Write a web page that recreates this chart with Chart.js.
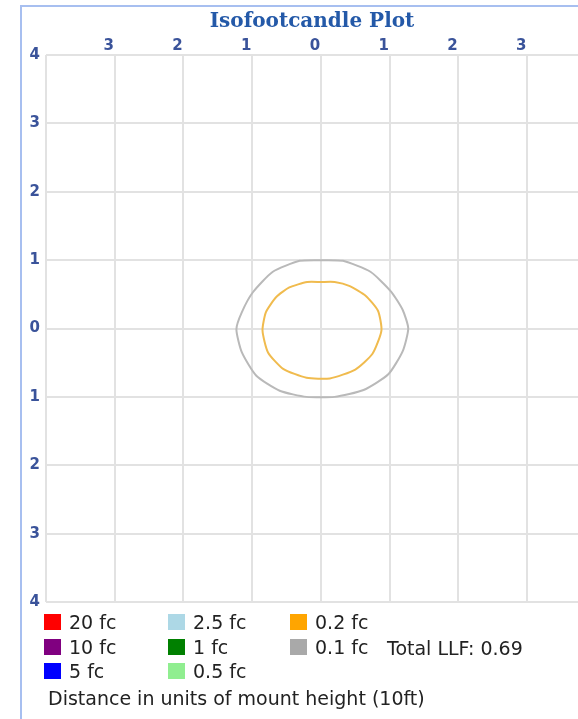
<!DOCTYPE html>
<html>
<head>
<meta charset="utf-8">
<script src="https://cdn.jsdelivr.net/npm/chart.js@4/dist/chart.umd.min.js"></script>
<style>
  body { margin: 0; background: #fff; width: 578px; height: 719px; overflow: hidden; position: relative; }
  #frame { position: absolute; left: 20px; top: 5px; width: 560px; height: 720px;
           border-left: 2px solid #a7bff0; border-top: 2px solid #a7bff0; }
  #plot { position: absolute; left: 0; top: 0; }
  .item { position: absolute; display: flex; align-items: center; font: 19px "DejaVu Sans", sans-serif; color: #222; line-height: 20px; }
  .sw { width: 17px; height: 16px; margin-right: 8px; }
  .note { position: absolute; font: 19px "DejaVu Sans", sans-serif; color: #222; white-space: nowrap; line-height: 22px; }
</style>
</head>
<body>
<div id="frame"></div>
<canvas id="plot" width="578" height="617"></canvas>
<div id="legend"></div>
<div class="note" id="llf" style="left:387px; top:637px;"></div>
<div class="note" id="dist" style="left:48px; top:687px;"></div>
<script>
// ======= DATA =======
const levelLabels = ["20 fc", "10 fc", "5 fc", "2.5 fc", "1 fc", "0.5 fc", "0.2 fc", "0.1 fc"];
const levelColors = ["#ff0000", "#800080", "#0000ff", "#add8e6", "#008000", "#90ee90", "#ffa500", "#a9a9a9"];
const xTicks = [-4, -3, -2, -1, 0, 1, 2, 3];
const yTicks = [-4, -3, -2, -1, 0, 1, 2, 3, 4];

// contour outlines (units of mount height)
const contour02 = [
  [0.0, 0.68], [-0.2, 0.68], [-0.46, 0.6], [-0.65, 0.46], [-0.8, 0.24], [-0.85, -0.03],
  [-0.77, -0.35], [-0.55, -0.59], [-0.21, -0.72], [0.13, -0.73], [0.5, -0.6], [0.75, -0.37],
  [0.88, -0.03], [0.83, 0.26], [0.65, 0.48], [0.42, 0.62], [0.2, 0.68], [0.0, 0.68]
];
const contour01 = [
  [0.0, 1.0], [-0.31, 0.99], [-0.7, 0.83], [-0.99, 0.53], [-1.15, 0.24], [-1.23, -0.01],
  [-1.15, -0.35], [-0.94, -0.69], [-0.6, -0.91], [-0.21, -1.0], [0.2, -1.0], [0.62, -0.9],
  [0.98, -0.67], [1.19, -0.33], [1.27, 0.0], [1.19, 0.27], [1.02, 0.54], [0.72, 0.83],
  [0.32, 0.99], [0.0, 1.0]
];
const totalLLF = 0.69;
const mountHeight = "10ft";

// ======= LEGEND (html) =======
const legend = document.getElementById("legend");
const colX = [44, 168, 290];
const rowY = [614, 639, 663];
levelLabels.forEach((lbl, i) => {
  let d = document.createElement("div");
  d.className = "item";
  d.style.left = colX[Math.floor(i / 3)] + "px";
  d.style.top = (rowY[i % 3] - 2) + "px";
  d.innerHTML = `<span class="sw" style="background:${levelColors[i]}"></span><span>${lbl}</span>`;
  legend.appendChild(d);
});
document.getElementById("llf").textContent = "Total LLF: " + totalLLF.toFixed(2);
document.getElementById("dist").textContent = "Distance in units of mount height (" + mountHeight + ")";

// ======= CHART =======
const toPts = arr => arr.map(p => ({ x: p[0], y: p[1] }));
const tickColor = "#3a539a";
const gridColor = "#e2e2e2";

new Chart(document.getElementById("plot").getContext("2d"), {
  type: "scatter",
  data: {
    datasets: [
      { label: levelLabels[7], data: toPts(contour01), showLine: true, borderColor: "#b9b9b9",
        borderWidth: 2, pointRadius: 0, tension: 0.2 },
      { label: levelLabels[6], data: toPts(contour02), showLine: true, borderColor: "#f0bb4e",
        borderWidth: 2, pointRadius: 0, tension: 0.2 }
    ]
  },
  options: {
    responsive: false,
    devicePixelRatio: 1,
    animation: false,
    layout: { padding: { left: 20, top: 10, right: 0, bottom: 0 } },
    plugins: {
      legend: { display: false },
      tooltip: { enabled: false },
      title: {
        display: true,
        text: "Isofootcandle Plot",
        fullSize: false,
        color: "#2459a8",
        font: { family: "'DejaVu Serif', serif", size: 20, weight: "bold" },
        padding: { top: 0, bottom: 2 }
      }
    },
    scales: {
      x: {
        type: "linear",
        position: "top",
        min: -4,
        max: 3.74,
        afterBuildTicks: s => { s.ticks = xTicks.map(v => ({ value: v })); },
        afterFit: s => { s.height = 19; },
        ticks: {
          includeBounds: false,
          padding: 0,
          labelOffset: -6,
          color: tickColor,
          font: { family: "'DejaVu Sans', sans-serif", size: 15, weight: "bold" },
          callback: v => v === -4 ? "" : Math.abs(v)
        },
        grid: { color: gridColor, lineWidth: 2, drawTicks: false },
        border: { display: false }
      },
      y: {
        type: "linear",
        min: -4,
        max: 4,
        afterBuildTicks: s => { s.ticks = yTicks.map(v => ({ value: v })); },
        afterFit: s => { s.width = 26; },
        ticks: {
          padding: 6,
          color: tickColor,
          font: { family: "'DejaVu Sans', sans-serif", size: 15, weight: "bold" },
          callback: v => Math.abs(v)
        },
        grid: { color: gridColor, lineWidth: 2, drawTicks: false },
        border: { display: false }
      }
    }
  }
});
</script>
</body>
</html>
